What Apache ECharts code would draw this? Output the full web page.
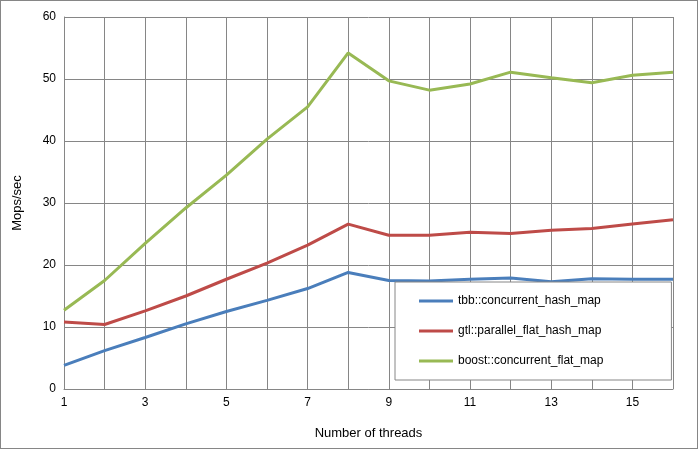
<!DOCTYPE html>
<html lang="en">
<head>
<meta charset="UTF-8">
<script src="https://cdn.jsdelivr.net/npm/echarts@6/dist/echarts.min.js"></script>
<style>body{margin:0}</style>
</head>
<body>
<div id="main" style="width:696px;height:447px;border:1px solid #868686;"></div>
<script type="text/javascript">
var threads = ['1','2','3','4','5','6','7','8','9','10','11','12','13','14','15','16'];
var tbb = [3.8, 6.2, 8.3, 10.5, 12.5, 14.3, 16.2, 18.8, 17.5, 17.4, 17.7, 17.9, 17.3, 17.8, 17.7, 17.7];
var gtl = [10.8, 10.4, 12.6, 15.0, 17.7, 20.3, 23.2, 26.6, 24.8, 24.8, 25.3, 25.1, 25.6, 25.9, 26.6, 27.3];
var boost = [12.7, 17.5, 23.5, 29.2, 34.5, 40.3, 45.5, 54.2, 49.7, 48.2, 49.2, 51.1, 50.2, 49.4, 50.6, 51.1];

var chart = echarts.init(document.getElementById('main'));
var font = 'Liberation Sans';
function line(name, data, color) {
    return {name: name, type: 'line', data: data, symbol: 'none',
        lineStyle: {color: color, width: 3}, itemStyle: {color: color}};
}
chart.setOption({
    animation: false,
    textStyle: {fontFamily: font},
    grid: {left: 63, right: 24, top: 16, bottom: 59},
    legend: {
        orient: 'vertical', left: 394, top: 281,
        padding: [13, 68, 13, 24], itemGap: 18,
        backgroundColor: '#fff', borderColor: '#868686', borderWidth: 1,
        itemWidth: 34, itemHeight: 14,
        icon: 'path://M0,6 H34 V9 H0 Z',
        textStyle: {fontSize: 12, color: '#000', fontFamily: font},
        data: ['tbb::concurrent_hash_map', 'gtl::parallel_flat_hash_map', 'boost::concurrent_flat_map']
    },
    xAxis: {
        type: 'category', data: threads, boundaryGap: false,
        name: 'Number of threads', nameLocation: 'middle', nameGap: 38,
        nameTextStyle: {fontSize: 13, color: '#000'},
        axisLine: {lineStyle: {color: '#868686'}},
        axisTick: {show: false},
        axisLabel: {interval: 1, color: '#000', fontSize: 12},
        splitLine: {show: true, interval: 0, lineStyle: {color: '#868686'}}
    },
    yAxis: {
        type: 'value', min: 0, max: 60, interval: 10,
        name: 'Mops/sec', nameLocation: 'middle', nameGap: 40,
        nameTextStyle: {fontSize: 13, color: '#000'},
        axisLine: {show: true, lineStyle: {color: '#868686'}},
        axisTick: {show: false},
        axisLabel: {color: '#000', fontSize: 12},
        splitLine: {lineStyle: {color: '#868686'}}
    },
    series: [
        line('tbb::concurrent_hash_map', tbb, '#4a7ebb'),
        line('gtl::parallel_flat_hash_map', gtl, '#be4b48'),
        line('boost::concurrent_flat_map', boost, '#98b954')
    ]
});
</script>
</body>
</html>
